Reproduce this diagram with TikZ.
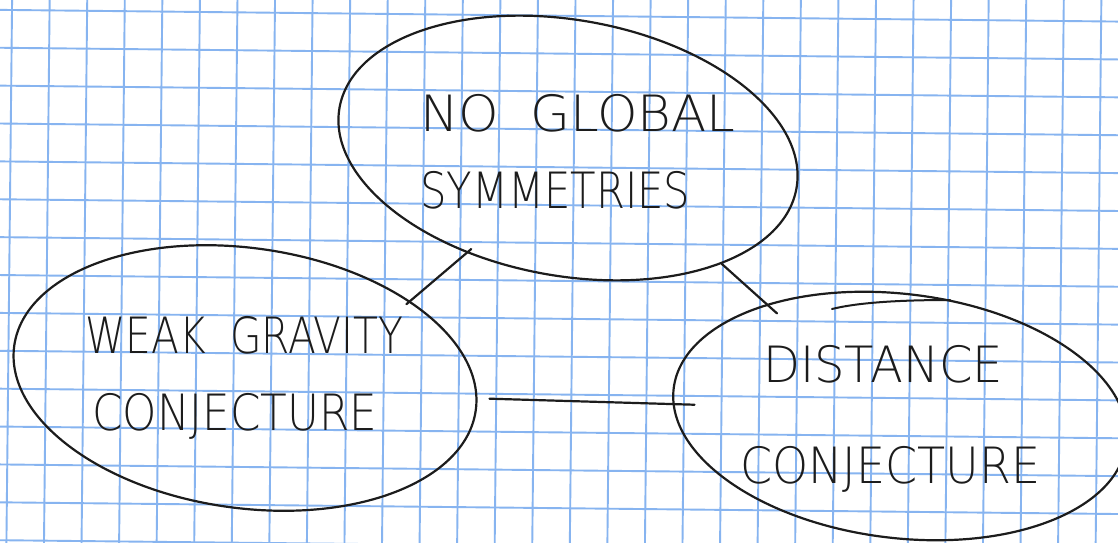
\documentclass[tikz,border=0pt]{standalone}
\usepackage{fontspec}
\usepackage{graphicx}
\usetikzlibrary{shapes.geometric}

\newfontfamily\handfont{DejaVuSans-ExtraLight.ttf}
\definecolor{gridblue}{RGB}{135,180,240}
\definecolor{pen}{RGB}{28,28,28}
\newcommand{\handline}[2]{\resizebox{#1pt}{\height}{#2}}

\begin{document}
\begin{tikzpicture}[x=1pt,y=1pt,
    gridline/.style={draw=gridblue, line width=1.9pt},
    bubble/.style={draw=pen, line width=2.2pt, ellipse, inner sep=0pt},
    handtext/.style={font=\handfont\fontsize{50}{77}\selectfont, text=pen,
        align=left, anchor=north west, inner sep=0pt},
    link/.style={draw=pen, line width=2.2pt, line cap=round},
    restroke/.style={draw=pen, line width=2pt, line cap=round}]

        \useasboundingbox (0,0) rectangle (1118,542);
        \fill[white] (0,0) rectangle (1118,542);

        % squared paper
        \begin{scope}
            \clip (0,0) rectangle (1118,542);
            \begin{scope}[rotate around={-0.6:(12,532)}]
                \foreach \i in {-2,...,31}
                    \draw[gridline] (12+37.56*\i,-40) -- (12+37.56*\i,600);
                \foreach \j in {-2,...,16}
                    \draw[gridline] (-40,532-37.88*\j) -- (1160,532-37.88*\j);
            \end{scope}
        \end{scope}

        % the three bubbles
        \node[bubble, rotate=-10, minimum width=464pt, minimum height=256pt] (nogs) at (568,394) {};
        \node[bubble, rotate=-8, minimum width=466pt, minimum height=260pt] (wgc) at (245,164) {};
        \node[bubble, rotate=-7, minimum width=456pt, minimum height=244pt] (dc) at (900,126) {};

        % where the pen started again
        \draw[restroke] (832,233) .. controls (860,240) and (905,242) .. (950,242);

        % texts
        \node[handtext] (nogs-t) at (420,448)
            {\handline{315}{NO\hspace{30pt}GLOBAL}\\\handline{270}{SYMMETRIES}};
        \node[handtext] (wgc-t) at (85,226)
            {\handline{318}{WEAK\hspace{30pt}GRAVITY}\\\hspace*{7pt}\handline{285}{CONJECTURE}};
        \node[handtext] (dc-t) at (740,197)
            {\hspace*{23pt}\handline{240}{DISTANCE}\\[24pt]\handline{300}{CONJECTURE}};

        % links
        \draw[link, shorten <=-6pt, shorten >=-5pt] (nogs.236) -- (wgc.33);
        \draw[link, shorten >=-14pt] (nogs.333) -- (dc.147.5);
        \draw[link, shorten <=12pt, shorten >=-22pt] (wgc.3) -- (dc.184);
    \end{tikzpicture}
\end{document}
